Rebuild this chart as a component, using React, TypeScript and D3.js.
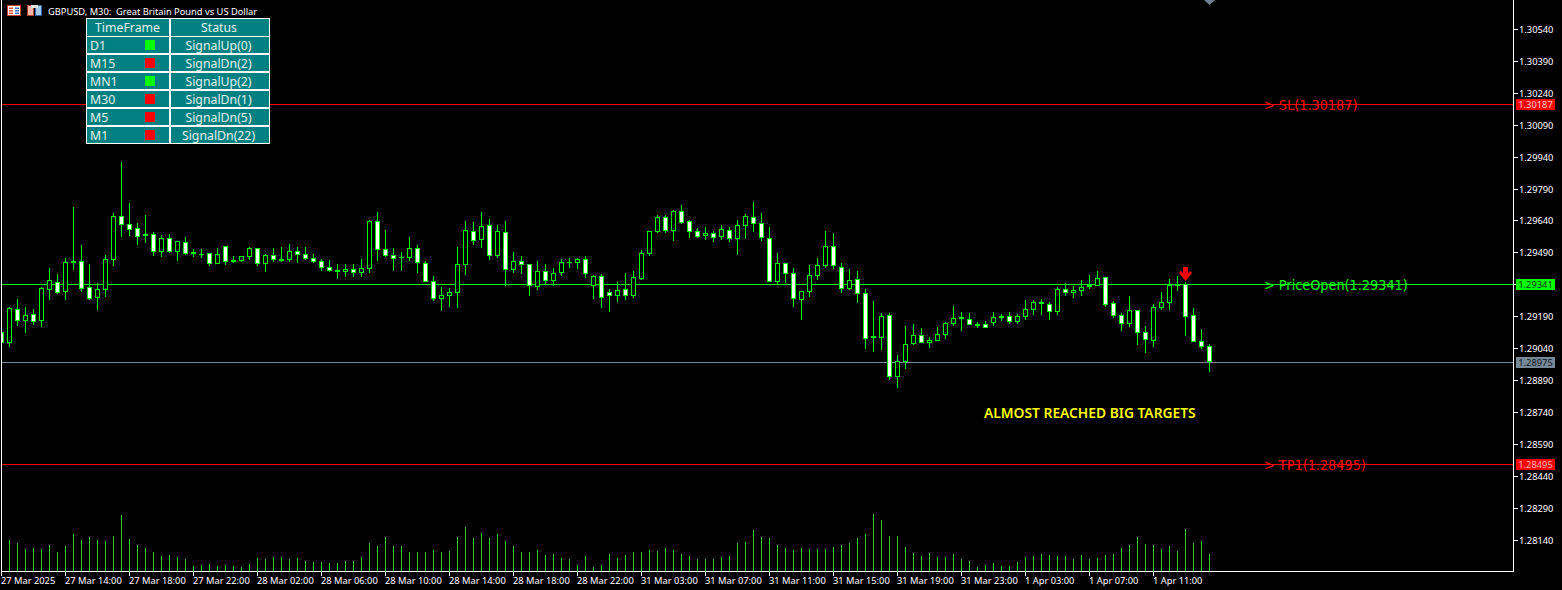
import React from "react";
import * as d3 from "d3";

// GBPUSD M30 bars, prices in points (1 point = 0.00001)
const opens = [129119,129067,129227,129170,129203,129170,129316,129354,129307,129452,129452,129330,129278,129316,129457,129664,129626,129607,129579,129579,129495,129560,129495,129542,129495,129480,129490,129438,129523,129457,129452,129471,129513,129438,129480,129462,129457,129499,129485,129466,129452,129424,129410,129401,129415,129396,129415,129640,129509,129480,129466,129466,129513,129443,129358,129274,129288,129302,129433,129593,129551,129621,129476,129589,129410,129452,129438,129330,129405,129358,129396,129443,129443,129462,129335,129382,129307,129288,129321,129288,129368,129485,129589,129659,129593,129687,129640,129593,129570,129584,129565,129598,129556,129617,129659,129631,129560,129354,129443,129396,129269,129307,129382,129429,129523,129424,129321,129368,129302,129090,129090,129198,128907,128978,129062,129104,129067,129076,129104,129156,129189,129180,129156,129156,129161,129194,129194,129166,129189,129222,129260,129250,129213,129321,129302,129311,129330,129335,129377,129255,129198,129156,129222,129119,129076,129231,129255,129335,129344,129198,129076,129053];
const highs = [129128,129236,129274,129236,129227,129330,129419,129391,129466,129706,129527,129438,129349,129480,129678,129918,129725,129631,129668,129589,129574,129579,129546,129565,129509,129509,129490,129513,129523,129476,129476,129518,129513,129485,129513,129518,129532,129518,129518,129485,129462,129457,129438,129438,129438,129462,129645,129683,129598,129513,129495,129565,129527,129452,129382,129330,129325,129518,129640,129636,129683,129650,129621,129640,129495,129476,129438,129452,129438,129419,129462,129466,129466,129476,129386,129391,129321,129354,129396,129405,129504,129593,129668,129668,129692,129715,129645,129607,129612,129593,129621,129612,129645,129673,129730,129678,129612,129490,129443,129419,129311,129433,129466,129593,129584,129443,129415,129405,129321,129264,129208,129208,129010,129147,129156,129137,129095,129142,129166,129241,129213,129208,129166,129170,129213,129203,129213,129203,129269,129269,129274,129260,129330,129349,129335,129363,129386,129405,129377,129264,129208,129288,129222,129147,129250,129307,129368,129382,129354,129231,129133,129062];
const lows = [129053,129048,129147,129114,129151,129142,129269,129297,129269,129410,129307,129269,129222,129283,129429,129565,129570,129527,129537,129476,129471,129490,129452,129480,129471,129466,129429,129438,129433,129443,129448,129457,129429,129401,129448,129448,129448,129443,129457,129443,129405,129401,129368,129377,129377,129377,129396,129452,129471,129405,129405,129452,129396,129354,129264,129217,129236,129231,129386,129527,129513,129457,129466,129335,129396,129391,129288,129316,129344,129335,129382,129419,129415,129372,129274,129231,129213,129260,129269,129278,129363,129476,129584,129584,129546,129626,129560,129560,129551,129542,129551,129542,129480,129556,129589,129546,129354,129344,129349,129236,129175,129283,129363,129419,129415,129302,129316,129255,129039,129025,129034,128893,128855,128945,129057,129067,129043,129076,129086,129147,129123,129151,129137,129137,129147,129170,129156,129156,129175,129198,129198,129175,129198,129288,129278,129288,129321,129335,129236,129184,129123,129142,129057,129020,129048,129222,129222,129311,129100,129072,129039,128931];
const closes = [129067,129231,129170,129198,129166,129325,129363,129302,129448,129443,129321,129274,129321,129462,129664,129621,129598,129565,129570,129495,129560,129495,129546,129485,129485,129485,129438,129485,129448,129448,129476,129513,129438,129480,129457,129452,129499,129480,129462,129448,129419,129405,129401,129415,129396,129419,129640,129504,129476,129462,129471,129513,129443,129354,129274,129292,129307,129438,129598,129546,129617,129476,129593,129410,129452,129433,129335,129405,129358,129396,129448,129448,129462,129391,129382,129278,129288,129316,129288,129377,129490,129593,129659,129593,129687,129631,129589,129565,129584,129560,129603,129556,129621,129664,129626,129560,129354,129443,129391,129274,129311,129386,129433,129523,129429,129321,129363,129297,129086,129100,129194,128907,128982,129062,129104,129067,129081,129109,129161,129184,129180,129151,129147,129137,129189,129184,129166,129194,129227,129260,129250,129213,129321,129302,129316,129330,129339,129372,129245,129194,129156,129222,129114,129081,129236,129260,129339,129344,129189,129072,129048,128978];
const volumes = [90,94,85,67,70,67,79,58,76,112,94,103,94,91,106,169,97,79,70,58,46,49,43,37,16,19,22,16,19,16,13,22,40,37,43,43,37,40,31,28,28,25,25,31,31,43,85,76,103,76,76,58,58,58,64,58,61,103,133,100,115,100,112,91,76,58,58,64,49,52,40,37,19,46,13,19,52,40,49,58,58,64,61,70,64,52,46,37,37,37,43,46,85,88,124,103,100,79,70,64,70,67,67,67,73,79,85,100,112,172,154,106,106,73,55,46,55,43,43,52,37,31,13,19,25,16,16,28,43,46,52,49,46,46,37,49,37,40,49,52,70,79,103,82,79,67,76,61,127,85,91,52];

const priceTicks = ["1.30540","1.30390","1.30240","1.30090","1.29940","1.29790","1.29640","1.29490","1.29340","1.29190","1.29040","1.28890","1.28740","1.28590","1.28440","1.28290","1.28140"];
const timeLabels = ["27 Mar 2025","27 Mar 14:00","27 Mar 18:00","27 Mar 22:00","28 Mar 02:00","28 Mar 06:00","28 Mar 10:00","28 Mar 14:00","28 Mar 18:00","28 Mar 22:00","31 Mar 03:00","31 Mar 07:00","31 Mar 11:00","31 Mar 15:00","31 Mar 19:00","31 Mar 23:00","1 Apr 03:00","1 Apr 07:00","1 Apr 11:00"];
const levelNames = ["> SL(1.30187)", "> PriceOpen(1.29341)", "", "> TP1(1.28495)"];
const levelPrices = [1.30187, 1.29341, 1.28975, 1.28495];
const levelColors = ["#ff0000", "#00ff00", "#778899", "#ff0000"];
const levelTagText = ["#ffc8c8", "#003c00", "#101418", "#ffb4b4"];
const tfNames = ["D1", "M15", "MN1", "M30", "M5", "M1"];
const tfStatus = ["SignalUp(0)", "SignalDn(2)", "SignalUp(2)", "SignalDn(1)", "SignalDn(5)", "SignalDn(22)"];
const tfUp = [true, false, true, false, false, false];

const GREEN = "#00ff00";
const VOL = "#32cd32";
const UI = "Noto Sans, sans-serif";

const x = d3.scaleLinear().domain([0, 151]).range([1, 1209]);
const y = d3.scaleLinear().domain([1.3054, 1.2814]).range([29.5, 540]);
const yv = d3.scaleLinear().domain([0, 300]).range([571, 471]);
const py = (pts: number) => Math.round(y(pts / 100000));

export default function App() {
  return (
    <svg width={1562} height={590} style={{ position: "absolute", left: 0, top: 0, background: "#000", display: "block" }}>
      <rect width={1562} height={590} fill="#000" />

      {/* volumes */}
      {volumes.map((v, i) => (
        <rect key={i} x={x(i)} y={Math.round(yv(v))} width={1} height={571 - Math.round(yv(v))} fill={VOL} />
      ))}

      {/* level lines */}
      {levelPrices.map((p, i) => (
        <rect key={i} x={2} y={Math.floor(y(p))} width={1511} height={1} fill={levelColors[i]} />
      ))}

      {/* candles */}
      {opens.map((o, i) => {
        const c = closes[i];
        const top = py(Math.max(o, c));
        const bot = Math.max(py(Math.min(o, c)), top + 1);
        const h = py(highs[i]);
        const l = py(lows[i]);
        const cx = x(i);
        const left = Math.max(2, cx - 2);
        return (
          <g key={i}>
            <rect x={cx} y={h} width={1} height={l - h} fill={GREEN} />
            <rect x={left} y={top} width={cx + 3 - left} height={bot - top} fill={GREEN} />
            {bot - top > 2 && (
              <rect x={Math.max(2, cx - 1)} y={top + 1} width={cx + 2 - Math.max(2, cx - 1)} height={bot - top - 2} fill={c < o ? "#ffffff" : "#000000"} />
            )}
          </g>
        );
      })}

      {/* level captions */}
      {levelNames.map((n, i) =>
        n ? (
          <text key={i} x={1264} y={y(levelPrices[i]) + 0.5} dominantBaseline="central" fontFamily="DejaVu Sans Condensed, DejaVu Sans" fontSize={14.3} fill={levelColors[i]}>
            {n}
          </text>
        ) : null
      )}

      <text x={984} y={418} fontFamily={UI} fontSize={13.8} fontWeight={600} fill="#ffff00">ALMOST REACHED BIG TARGETS</text>

      {/* sell arrow */}
      {(() => {
        const ax = x(148) + 0.5;
        const ay = py(highs[148]) - 15;
        return (
          <path
            d={`M${ax - 2.5} ${ay}H${ax + 2.5}V${ay + 6}L${ax + 5} ${ay + 4}L${ax + 6.5} ${ay + 6}L${ax} ${ay + 14}L${ax - 6.5} ${ay + 6}L${ax - 5} ${ay + 4}L${ax - 2.5} ${ay + 6}Z`}
            fill="#ff0000"
          />
        );
      })()}

      {/* axes */}
      <rect x={1} y={0} width={1} height={572} fill="#fff" />
      <rect x={1} y={571} width={1513} height={1} fill="#fff" />
      <rect x={1513} y={0} width={1} height={572} fill="#fff" />

      {priceTicks.map((t) => {
        const yy = Math.floor(y(+t));
        return (
          <g key={t}>
            <rect x={1513} y={yy} width={5} height={1} fill="#fff" />
            <text x={1519} y={yy} dominantBaseline="central" fontFamily={UI} fontSize={9.3} fill="#fff">{t}</text>
          </g>
        );
      })}

      {timeLabels.map((t, i) => {
        const xx = x(i * 8);
        return (
          <g key={t}>
            <rect x={xx} y={571} width={1} height={5} fill="#fff" />
            <text x={xx} y={580.5} dominantBaseline="central" fontFamily={UI} fontSize={9.3} fill="#fff">{t}</text>
          </g>
        );
      })}

      {/* price tags */}
      {levelPrices.map((p, i) => {
        const yy = Math.floor(y(p));
        return (
          <g key={i}>
            <rect x={1516} y={yy - 5} width={39} height={11} fill={levelColors[i]} />
            <text x={1535.5} y={yy + 0.5} textAnchor="middle" dominantBaseline="central" fontFamily={UI} fontSize={9.3} fill={levelTagText[i]}>{p.toFixed(5)}</text>
          </g>
        );
      })}

      {/* header */}
      <g>
        <rect x={7.5} y={5.5} width={13} height={10} fill="#fff" stroke="#c84030" />
        <rect x={9} y={7.5} width={4} height={1.5} fill="#e05040" />
        <rect x={9} y={10} width={4} height={1.5} fill="#e05040" />
        <rect x={9} y={12.5} width={4} height={1.5} fill="#e05040" />
        <rect x={15} y={7.5} width={4} height={1.5} fill="#3070c0" />
        <rect x={15} y={10} width={4} height={1.5} fill="#3070c0" />
        <rect x={15} y={12.5} width={4} height={1.5} fill="#3070c0" />
        <rect x={27.5} y={5.5} width={6} height={10} fill="#f4b8a8" stroke="#b04030" />
        <rect x={35.5} y={5.5} width={6} height={10} fill="#a8c8e8" stroke="#3060a0" />
        <rect x={31} y={5} width={7} height={3} fill="#e0e0e0" />
        <text x={48} y={11} dominantBaseline="central" fontFamily={UI} fontSize={9.3} fill="#fff">{"GBPUSD, M30:\u00a0 Great Britain Pound vs US Dollar"}</text>
      </g>

      {/* top-of-window marker */}
      <path d={`M${x(151) - 5} 0h11l-5.5 5z`} fill="#708090" />

      {/* signal table */}
      <g fontFamily={UI} fontSize={12.3} fill="#e0f0f0">
        <rect x={86} y={18} width={184} height={126} fill="#fff" />
        <rect x={87} y={19} width={82} height={17} fill="#008080" />
        <rect x={171} y={19} width={98} height={17} fill="#008080" />
        <text x={127.5} y={27.5} textAnchor="middle" dominantBaseline="central">TimeFrame</text>
        <text x={219} y={27.5} textAnchor="middle" dominantBaseline="central">Status</text>
        {tfNames.map((n, i) => {
          const ry = 37 + i * 18;
          return (
            <g key={n}>
              <rect x={87} y={ry} width={82} height={16} fill="#008080" />
              <rect x={171} y={ry} width={98} height={16} fill="#008080" />
              <text x={90} y={ry + 8} dominantBaseline="central">{n}</text>
              <rect x={145} y={ry + 3} width={10} height={10} fill={tfUp[i] ? GREEN : "#ff0000"} />
              <text x={218.5} y={ry + 8} textAnchor="middle" dominantBaseline="central">{tfStatus[i]}</text>
            </g>
          );
        })}
      </g>
    </svg>
  );
}
